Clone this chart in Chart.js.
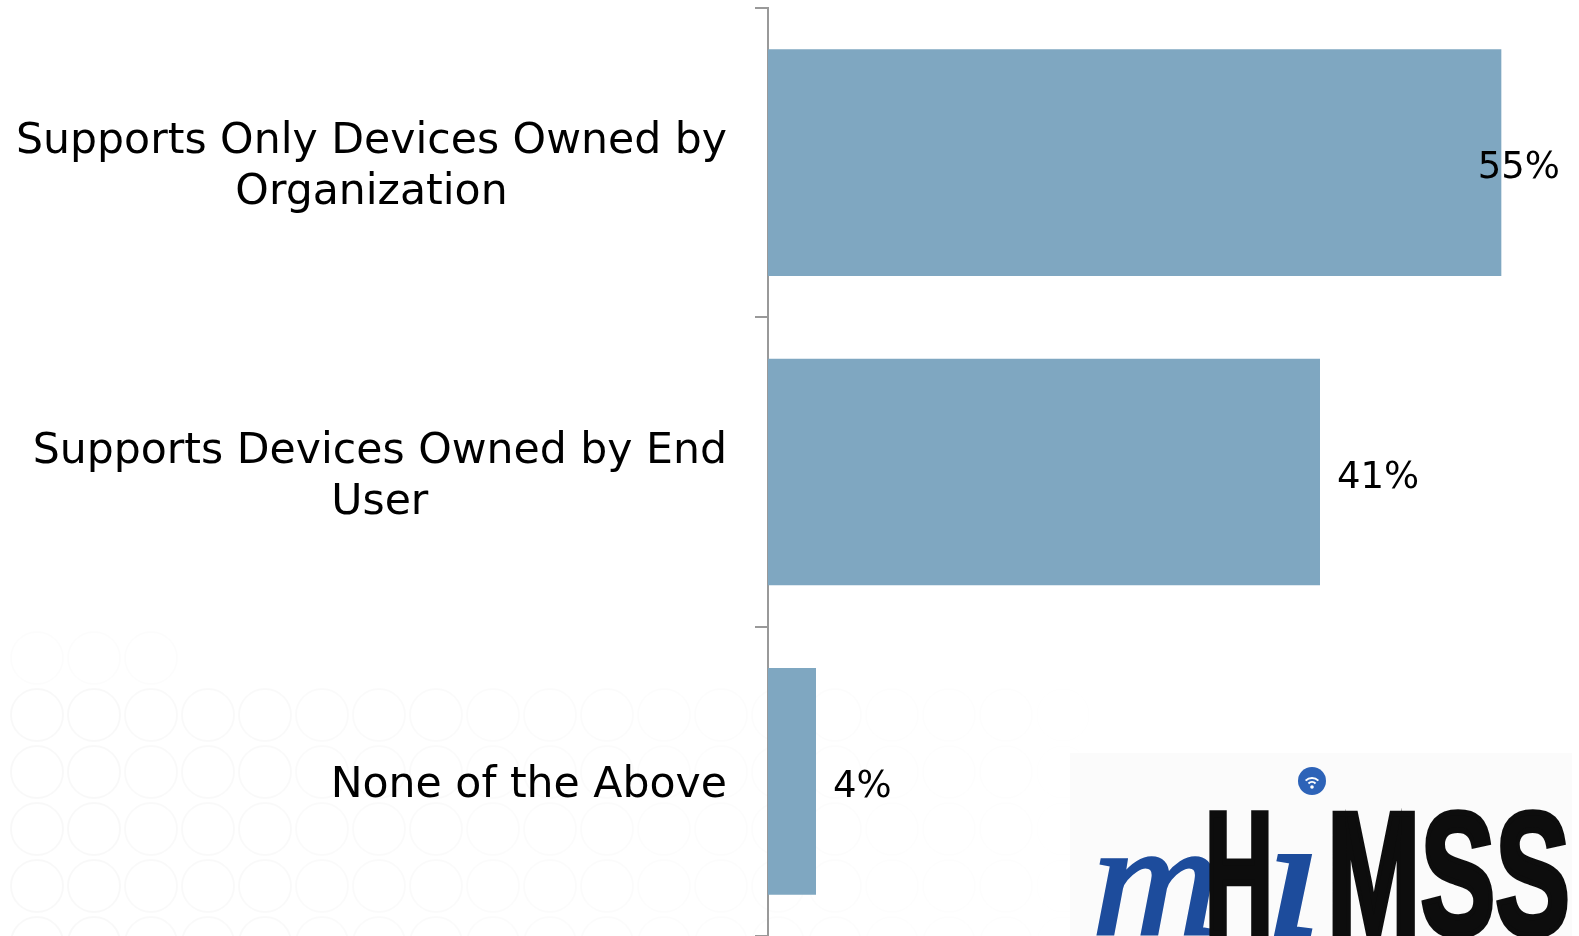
<!DOCTYPE html>
<html>
<head>
<meta charset="utf-8">
<script src="https://cdn.jsdelivr.net/npm/chart.js@4.4.1/dist/chart.umd.min.js"></script>
<style>
  html, body { margin: 0; padding: 0; background: #fff; }
  #wrap { width: 1579px; height: 936px; position: relative; }
</style>
</head>
<body>
<div id="wrap"><canvas id="chart"></canvas></div>
<script>
// data (bar lengths; labels as printed)
const categories = [
  ['Supports Only Devices Owned by', 'Organization'],
  ['Supports Devices Owned by End', 'User'],
  ['None of the Above'],
];
const shares = [55, 41.4, 3.6];
const shareLabels = ['55%', '41%', '4%'];
const xTicks = [0, 60];

const BAR_COLOR = '#7fa7c1';
const AXIS_COLOR = '#999999';
const FONT = '"DejaVu Sans", Verdana, sans-serif';

/* ── faint circle pattern + logo backdrop ── */
const backdrop = {
  id: 'backdrop',
  beforeDraw(chart) {
    const ctx = chart.ctx;
    ctx.save();
    ctx.fillStyle = '#fff';
    ctx.fillRect(0, 0, chart.width, chart.height);
    ctx.lineWidth = 2;
    for (let r = -1; r < 6; r++) {
      const cy = 658 + r * 57;
      for (let c = 0; c < 20; c++) {
        const cx = 37 + c * 57;
        // pattern fades towards top-right
        let a = 0.026 - Math.max(0, cx - 100) * 0.000022 - Math.max(0, 700 - cy) * 0.0003;
        if (r <= 0 && c > 2) a = 0;
        if (a <= 0.004) continue;
        ctx.strokeStyle = `rgba(0,0,0,${a})`;
        ctx.beginPath();
        ctx.arc(cx, cy, 26, 0, Math.PI * 2);
        ctx.stroke();
      }
    }
    ctx.fillStyle = '#fbfbfb';
    ctx.fillRect(1070, 753, 502, 183);
    ctx.restore();
  },
};

/* ── category labels: block right-aligned, lines centred in block ── */
const catLabels = {
  id: 'catLabels',
  afterDraw(chart) {
    const ctx = chart.ctx;
    const y = chart.scales.y;
    const right = 727, lineH = 51;
    ctx.save();
    ctx.font = `42.6px ${FONT}`;
    ctx.fillStyle = '#000';
    ctx.textBaseline = 'middle';
    ctx.textAlign = 'center';
    categories.forEach((lines, i) => {
      const cy = y.getPixelForValue(i);
      const w = Math.max(...lines.map(l => ctx.measureText(l).width));
      const cx = right - w / 2;
      const top = cy - (lines.length - 1) * lineH / 2;
      lines.forEach((l, k) => ctx.fillText(l, cx, top + k * lineH + 5));
    });
    ctx.restore();
  },
};

/* ── value labels at bar end, kept inside the right edge ── */
const valueLabels = {
  id: 'valueLabels',
  afterDatasetsDraw(chart) {
    const ctx = chart.ctx;
    const meta = chart.getDatasetMeta(0);
    ctx.save();
    ctx.font = `37px ${FONT}`;
    ctx.fillStyle = '#000';
    ctx.textBaseline = 'middle';
    ctx.textAlign = 'left';
    meta.data.forEach((bar, i) => {
      const txt = shareLabels[i];
      const w = ctx.measureText(txt).width;
      let x = bar.x + 17;
      if (x + w > 1560) x = 1560 - w;
      ctx.fillText(txt, x, bar.y + 6);
    });
    ctx.restore();
  },
};

/* ── mHIMSS logo ── */
const logo = {
  id: 'logo',
  afterDraw(chart) {
    const ctx = chart.ctx;
    const base = 934;
    ctx.save();
    ctx.textBaseline = 'alphabetic';
    ctx.textAlign = 'left';

    function fitText(txt, font, x, w, fill, stroke) {
      ctx.save();
      ctx.font = font;
      const tw = ctx.measureText(txt).width;
      ctx.translate(x, base);
      ctx.scale(w / tw, 1);
      ctx.fillStyle = fill;
      ctx.fillText(txt, 0, 0);
      if (stroke) {
        ctx.lineWidth = stroke;
        ctx.strokeStyle = fill;
        ctx.strokeText(txt, 0, 0);
      }
      ctx.restore();
    }

    const blue = ctx.createLinearGradient(1090, 830, 1330, 930);
    blue.addColorStop(0, '#1d4c9c');
    blue.addColorStop(0.5, '#5d93d8');
    blue.addColorStop(1, '#1c4a98');

    fitText('m', `italic 160px "Liberation Serif", serif`, 1092, 128, blue, 3);
    fitText('H', `bold 174px "Liberation Sans Narrow", "Liberation Sans", sans-serif`, 1205, 68, '#0d0d0d', 7);
    fitText('ı', `italic 170px "Liberation Serif", serif`, 1266, 56, blue, 4);
    fitText('MSS', `bold 174px "Liberation Sans Narrow", "Liberation Sans", sans-serif`, 1327, 243, '#0d0d0d', 6);

    // wifi dot
    ctx.fillStyle = '#2d63b8';
    ctx.beginPath();
    ctx.arc(1312, 781, 14, 0, Math.PI * 2);
    ctx.fill();
    ctx.strokeStyle = '#fff';
    ctx.lineWidth = 2;
    [9, 5].forEach(r => {
      ctx.beginPath();
      ctx.arc(1312, 787, r, Math.PI * 1.25, Math.PI * 1.75);
      ctx.stroke();
    });
    ctx.fillStyle = '#fff';
    ctx.beginPath();
    ctx.arc(1312, 787, 1.8, 0, Math.PI * 2);
    ctx.fill();
    ctx.restore();
  },
};

new Chart(document.getElementById('chart'), {
  type: 'bar',
  data: {
    labels: categories,
    datasets: [{
      data: shares,
      backgroundColor: BAR_COLOR,
      borderWidth: 0,
      barPercentage: 1,
      categoryPercentage: 0.733,
    }],
  },
  plugins: [backdrop, catLabels, valueLabels, logo],
  options: {
    indexAxis: 'y',
    responsive: true,
    maintainAspectRatio: false,
    animation: false,
    layout: { padding: { top: 8, right: 11, left: 0, bottom: 0 } },
    plugins: {
      legend: { display: false },
      tooltip: { enabled: false },
    },
    scales: {
      x: {
        min: xTicks[0],
        max: xTicks[1],
        display: false,
      },
      y: {
        offset: true,
        grid: {
          offset: true,
          drawOnChartArea: false,
          tickLength: 13,
          color: AXIS_COLOR,
          lineWidth: 2,
        },
        border: { color: AXIS_COLOR, width: 2 },
        ticks: { display: false },
        afterFit: s => { s.width = 768; },
      },
    },
  },
});
</script>
</body>
</html>
